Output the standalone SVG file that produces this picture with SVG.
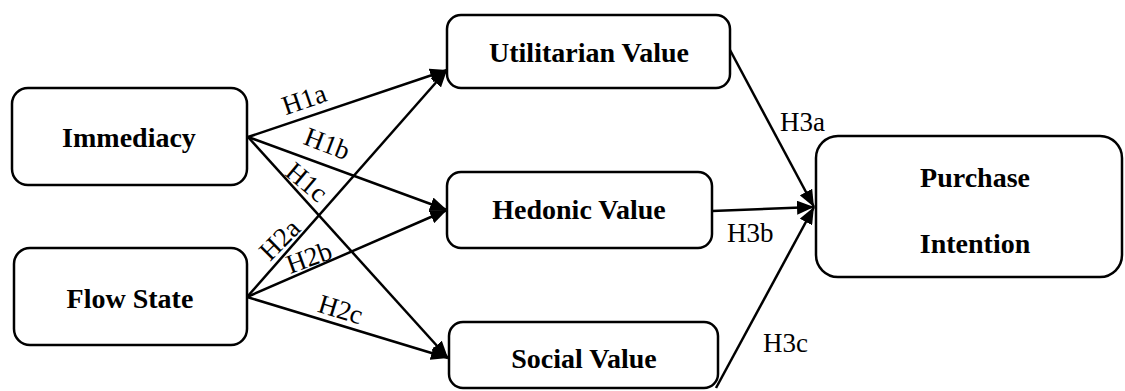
<svg xmlns="http://www.w3.org/2000/svg" width="1125" height="391" viewBox="0 0 1125 391">
<style>
.box{fill:#fff;stroke:#000;stroke-width:2.5}
.nt{font-family:"Liberation Serif","Times New Roman",serif;font-weight:bold;font-size:28px;fill:#000;text-anchor:middle}
.lb{font-family:"Liberation Serif","Times New Roman",serif;font-size:27px;fill:#000}
.ln{stroke:#000;stroke-width:2.5;fill:none;marker-end:url(#ah)}
</style>
<defs>
<marker id="ah" markerUnits="userSpaceOnUse" markerWidth="18" markerHeight="14" refX="17" refY="7" orient="auto">
<path d="M0,0 L17,7 L0,14 z" fill="#000"/>
</marker>
</defs>
<rect width="1125" height="391" fill="#fff"/>
<g id="connectors">
<line class="ln" x1="248" y1="137" x2="447" y2="70"/>
<line class="ln" x1="248" y1="137" x2="447" y2="210"/>
<line class="ln" x1="248" y1="137" x2="448" y2="358"/>
<line class="ln" x1="247" y1="297" x2="447" y2="70"/>
<line class="ln" x1="247" y1="297" x2="447" y2="210"/>
<line class="ln" x1="247" y1="297" x2="448" y2="358"/>
<line class="ln" x1="730" y1="50" x2="814" y2="207"/>
<line class="ln" x1="712" y1="211" x2="814" y2="207"/>
<line class="ln" x1="716" y1="388" x2="814" y2="207"/>
<text class="lb" text-anchor="middle" transform="translate(307,108) rotate(-19)">H1a</text>
<text class="lb" text-anchor="middle" transform="translate(324,152) rotate(21)">H1b</text>
<text class="lb" text-anchor="middle" transform="translate(301,189) rotate(40)">H1c</text>
<text class="lb" text-anchor="middle" transform="translate(286,246) rotate(-45)">H2a</text>
<text class="lb" text-anchor="middle" transform="translate(312,266) rotate(-20)">H2b</text>
<text class="lb" text-anchor="middle" transform="translate(338,318) rotate(17)">H2c</text>
<text class="lb" x="780" y="131">H3a</text>
<text class="lb" x="727" y="242">H3b</text>
<text class="lb" x="763" y="352">H3c</text>
</g>
<g id="immediacy">
<rect class="box" x="12" y="88" width="235" height="97" rx="16"/>
<text class="nt" x="129" y="147">Immediacy</text>
</g>
<g id="flow-state">
<rect class="box" x="14" y="248" width="233" height="97" rx="16"/>
<text class="nt" x="130" y="308">Flow State</text>
</g>
<g id="utilitarian-value">
<rect class="box" x="447" y="15" width="283" height="73" rx="14"/>
<text class="nt" x="589" y="62">Utilitarian Value</text>
</g>
<g id="hedonic-value">
<rect class="box" x="447" y="172" width="265" height="76" rx="14"/>
<text class="nt" x="579" y="219">Hedonic Value</text>
</g>
<g id="social-value">
<rect class="box" x="449" y="322" width="269" height="66" rx="14"/>
<text class="nt" x="584" y="368">Social Value</text>
</g>
<g id="purchase-intention">
<rect class="box" x="816" y="136" width="306" height="141" rx="22"/>
<text class="nt" x="975" y="187">Purchase</text>
<text class="nt" x="975" y="253">Intention</text>
</g>
</svg>
